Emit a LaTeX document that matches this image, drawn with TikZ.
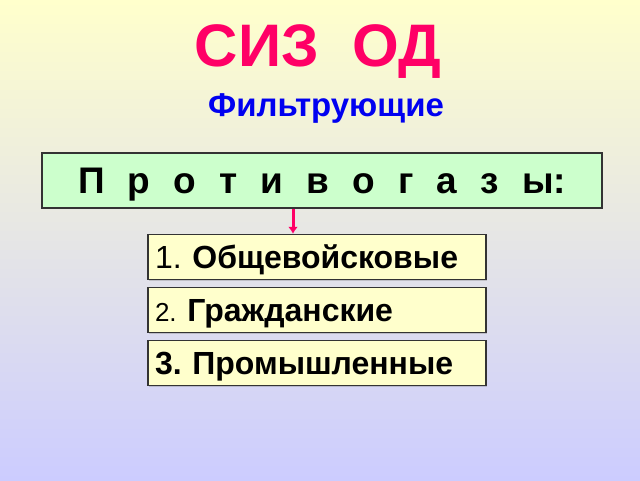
\documentclass[tikz,border=0pt]{standalone}
\usepackage{fontspec}
\setmainfont{Liberation Sans}
\usetikzlibrary{arrows.meta,positioning,shadows}
\definecolor{sizred}{HTML}{FF0066}
\definecolor{sizblue}{HTML}{0000F0}
\definecolor{boxgreen}{HTML}{CCFFCC}
\definecolor{boxyellow}{HTML}{FFFFCC}
\definecolor{bgtop}{HTML}{FFFFCC}
\definecolor{bgbottom}{HTML}{CCCCFF}
\definecolor{edge}{HTML}{333333}
\frenchspacing
\tikzset{
  basic/.style  = {draw=edge, line width=1.5pt, rectangle, inner sep=0pt,
                   drop shadow={shadow xshift=1.2pt, shadow yshift=-1.2pt,
                   opacity=0.35}},
  head/.style   = {basic, fill=boxgreen, minimum width=560pt, minimum height=55pt,
                   text height=26pt, text depth=0pt,
                   font=\fontsize{37}{37}\selectfont\bfseries},
  item/.style   = {basic, fill=boxyellow, text width=324pt, inner xsep=7pt,
                   minimum height=45pt, text height=23pt, text depth=0pt,
                   align=left, font=\fontsize{32}{32}\selectfont\bfseries},
  title/.style  = {anchor=base, text=sizred, font=\fontsize{60}{60}\selectfont\bfseries},
  sub/.style    = {anchor=base, text=sizblue, font=\fontsize{33}{33}\selectfont\bfseries}
}

\begin{document}
\begin{tikzpicture}[x=1pt, y=-1pt,
  link/.style={draw=sizred, line width=3pt, -{Latex[length=7pt,width=10pt]}}]

\shade[top color=bgtop, bottom color=bgbottom] (0,0) rectangle (640,480);
\useasboundingbox (0,0) rectangle (640,480);

\node[title] (Siz) at (318,66) {СИЗ\ \ ОД};
\node[sub] (Filter) at (326,116) {Фильтрующие};

\node[head] (Gasmasks) at (322,180.5) {\makebox[488pt][s]{П р о т и в о г а з ы:}};

\node[item] (Army) at (317,257) {{\mdseries 1.} Общевойсковые};
\node[item, below=6.5pt of Army] (Civil) {{\mdseries\fontsize{26}{26}\selectfont 2.} Гражданские};
\node[item, below=6.5pt of Civil] (Industry) {3. Промышленные};

\draw[link] ([xshift=-29pt]Gasmasks.south) -- ([xshift=-29pt]Gasmasks.south |- Army.north);

\end{tikzpicture}
\end{document}
